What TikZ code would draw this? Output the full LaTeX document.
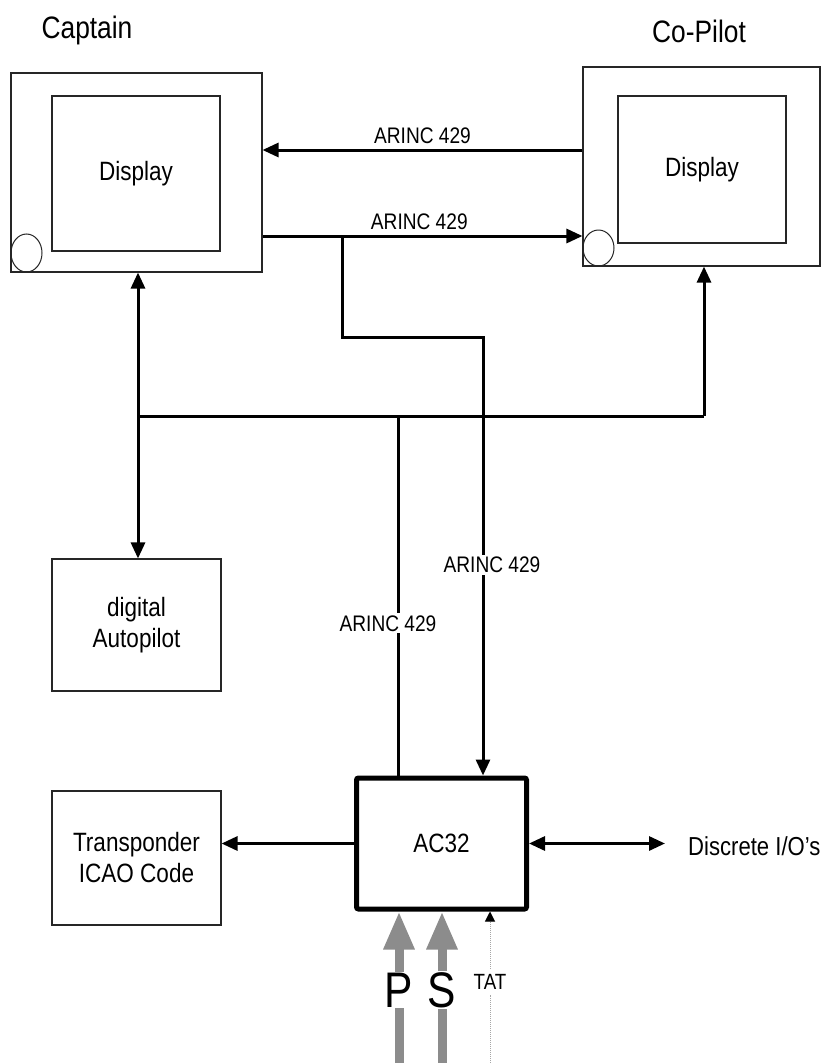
\documentclass[tikz,border=0pt]{standalone}
\usepackage{fontspec}
\setmainfont{Liberation Sans}[FakeStretch=0.85]
\usepackage{tikz}
\usetikzlibrary{calc, arrows.meta, shapes.geometric}
\tikzstyle{box}       = [rectangle, draw=black!85, line width=1.1pt, inner sep=0pt, text centered, font=\fontsize{26.5}{31}\selectfont, align=center]
\tikzstyle{knob}      = [ellipse, draw=black!85, line width=1pt, inner sep=0pt]
\tikzstyle{title}     = [font=\fontsize{31}{34}\selectfont]
\tikzstyle{lbl}       = [font=\fontsize{22.5}{26}\selectfont, inner sep=2pt]
\tikzstyle{wire}      = [line width=3pt]
\tikzstyle{arrow}     = [wire, -{Triangle[length=16pt,width=14pt]}]
\tikzstyle{twoway}    = [wire, {Triangle[length=16pt,width=14pt]}-{Triangle[length=16pt,width=14pt]}]
\tikzstyle{probe}     = [line width=9pt, draw=black!45]
\tikzstyle{probearrow}= [probe, -{Triangle[length=38pt,width=29pt]}]
\tikzstyle{tatline}   = [line width=1pt, draw=black!35, densely dotted, -{Triangle[length=10pt,width=10pt,black]}]

\begin{document}
\begin{tikzpicture}[x=1pt, y=-1pt]
  \useasboundingbox (0,0) rectangle (828,1063);

  \node (capTitle) [title] at (87,30)  {Captain};
  \node (copTitle) [title] at (699,31) {Co-Pilot};

  % displays
  \node (capOuter) [box, minimum width=251pt, minimum height=199pt] at (136.5,172.5) {};
  \node (capInner) [box, minimum width=168pt, minimum height=155pt] at (136,173.5) {Display};
  \node (capKnob)  [knob, minimum width=31pt, minimum height=38pt] at (26.5,253) {};

  \node (copOuter) [box, minimum width=237pt, minimum height=199pt] at (701.5,166.5) {};
  \node (copInner) [box, minimum width=168pt, minimum height=147pt] at (702,169.5) {Display};
  \node (copKnob)  [knob, minimum width=31pt, minimum height=36pt] at (598.5,248) {};

  % boxes below
  \node (autopilot) [box, minimum width=169pt, minimum height=132pt] at (136.5,625) {digital\\Autopilot};
  \node (xpdr)      [box, minimum width=169pt, minimum height=134pt] at (136.5,858) {Transponder\\ICAO Code};
  \node (ac32)      [box, draw=black, line width=5pt, rounded corners=2pt, minimum width=170pt, minimum height=131pt] at (441.5,843.5) {AC32};
  \node (dio)       [lbl, anchor=west, font=\fontsize{26}{30}\selectfont] at (686,846) {Discrete I/O's};

  \coordinate (linkA) at (420,150);
  \coordinate (linkB) at (342,236);
  \coordinate (bendB) at (483,337);
  \coordinate (busL)  at (138,416);
  \coordinate (busM)  at (398,416);
  \coordinate (busR)  at (704,416);

  % ARINC 429 between the displays
  \draw [arrow] (copOuter.west |- linkA) -- node[lbl, above=3pt] {ARINC 429} (capOuter.east |- linkA);
  \draw [arrow] (capOuter.east |- linkB) -- node[lbl, above=3pt, pos=0.49] {ARINC 429} (copOuter.west |- linkB);
  \draw [arrow] (linkB) |- (bendB) -- node[lbl, fill=white, pos=0.52, xshift=9pt] {ARINC 429} (ac32.north -| bendB);

  % bus
  \draw [wire] (busL) -- (busR);
  \draw [arrow] (busR) -- (copOuter.south -| busR);
  \draw [arrow] (busL) -- (capOuter.south -| busL);
  \draw [arrow] (busL) -- (autopilot.north -| busL);
  \draw [wire] (busM) -- node[lbl, fill=white, pos=0.577, xshift=-10pt] {ARINC 429} (ac32.north -| busM);

  \draw [arrow] (ac32.west) -- (ac32.west -| xpdr.east);
  \draw [twoway] (ac32.east) -- ([xshift=-21pt]ac32.east -| dio.west);

  % sensors
  \node (pLbl)   [font=\fontsize{50}{54}\selectfont, inner sep=1pt] at (399,990) {P};
  \node (sLbl)   [font=\fontsize{50}{54}\selectfont, inner sep=1pt] at (442,990) {S};
  \node (tatLbl) [font=\fontsize{22}{25}\selectfont, inner sep=5pt] at (490,982) {TAT};
  \coordinate (pFoot)   at (399,1063);
  \coordinate (sFoot)   at (442,1063);
  \coordinate (tatFoot) at (490,1063);
  \draw [probe] (pFoot) -- (pLbl);
  \draw [probearrow] (pLbl) -- (ac32.south -| pLbl);
  \draw [probe] (sFoot) -- (sLbl);
  \draw [probearrow] (sLbl) -- (ac32.south -| sLbl);
  \draw [tatline] (tatFoot) -- (tatLbl) -- (ac32.south -| tatLbl);
\end{tikzpicture}
\end{document}
